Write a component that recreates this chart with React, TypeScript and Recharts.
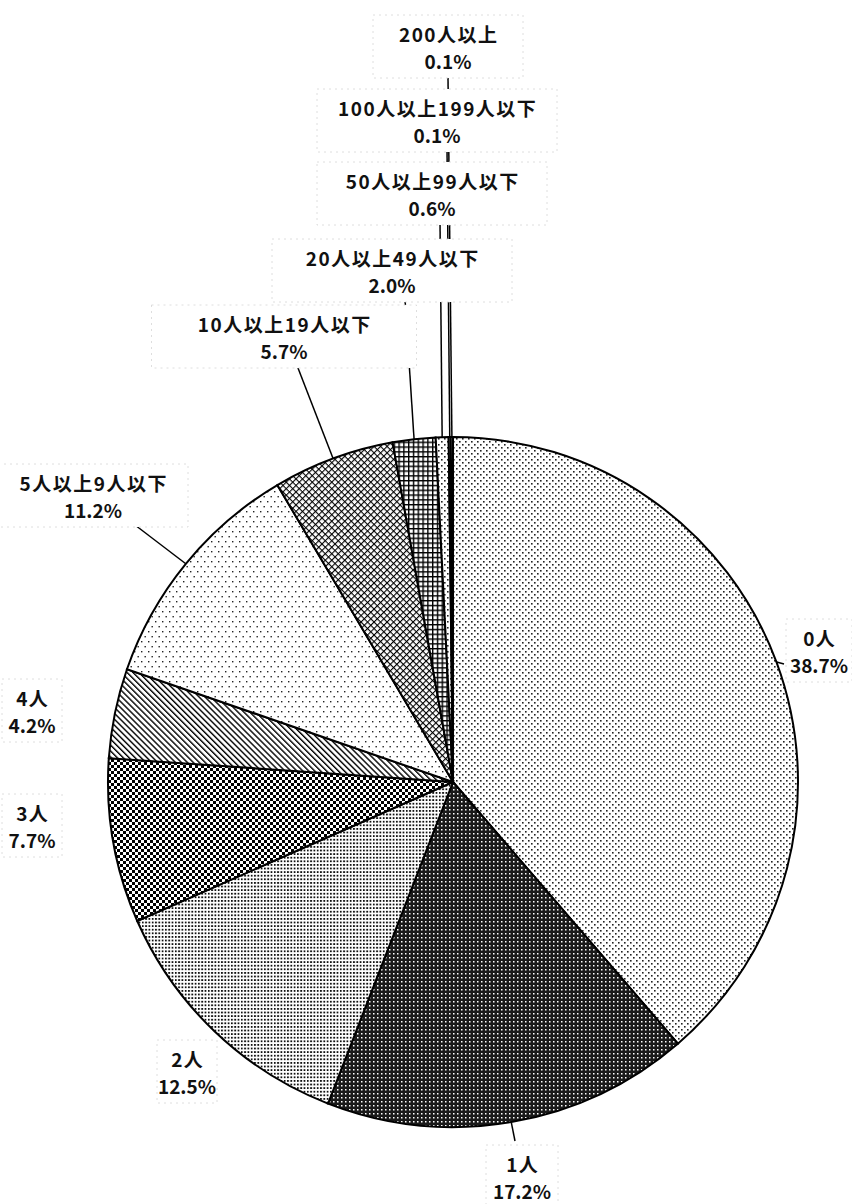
import { Cell, Pie, PieChart } from 'recharts'

const categories = [
  '0人',
  '1人',
  '2人',
  '3人',
  '4人',
  '5人以上9人以下',
  '10人以上19人以下',
  '20人以上49人以下',
  '50人以上99人以下',
  '100人以上199人以下',
  '200人以上',
]
const shares = [38.7, 17.2, 12.5, 7.7, 4.2, 11.2, 5.7, 2.0, 0.6, 0.1, 0.1]

const data = categories.map((name, i) => ({ name, value: shares[i] }))

// fill pattern per slice (monochrome hatching like the printed original)
const patternIds = ['dots', 'dark', 'fine', 'check', 'diag', 'sparse', 'diamond', 'grid', 'dots', 'blank', 'blank']

// label layout: text centre of first line, box width, start of leader line
const labelCenters: [number, number][] = [
  [819, 637],
  [522, 1163],
  [187, 1058],
  [32, 812],
  [32, 697],
  [93, 482],
  [284, 323],
  [392, 257],
  [432, 180],
  [437, 107],
  [448, 33],
]
const boxWidths = [66, 72, 60, 60, 60, 190, 265, 240, 230, 240, 150]
const lineStarts: ([number, number] | null)[] = [
  [784, 664],
  [515, 1141],
  null,
  null,
  null,
  [135, 525],
  [298, 368],
  [405, 299],
  [440, 222],
  [447, 148],
  [448, 78],
]

const RAD = Math.PI / 180
const FONT = '"Noto Sans CJK JP", "Noto Sans CJK SC", sans-serif'

const renderLeader = (props: any) => {
  const { cx, cy, midAngle, outerRadius, index } = props
  const start = lineStarts[index]
  if (!start) return null
  const ex = cx + outerRadius * Math.cos(-midAngle * RAD)
  const ey = cy + outerRadius * Math.sin(-midAngle * RAD)
  return <line x1={start[0]} y1={start[1]} x2={ex} y2={ey} stroke="#000" strokeWidth={1.5} />
}

const renderBox = (props: any) => {
  const { index } = props
  const [x, y] = labelCenters[index]
  const w = boxWidths[index]
  return (
    <g>
      <rect
        x={x - w / 2}
        y={y - 18}
        width={w}
        height={63}
        fill="#fff"
        stroke="#d6d6d6"
        strokeWidth={0.8}
        strokeDasharray="2 4"
      />
      <text
        x={x + 0.75}
        y={y}
        textAnchor="middle"
        dominantBaseline="central"
        fontFamily={FONT}
        fontWeight={700}
        fontSize={19}
        letterSpacing={1.5}
        fill="#111"
      >
        {categories[index]}
      </text>
      <text
        x={x}
        y={y + 27}
        textAnchor="middle"
        dominantBaseline="central"
        fontFamily={FONT}
        fontWeight={700}
        fontSize={19}
        fill="#111"
      >
        {shares[index].toFixed(1)}%
      </text>
    </g>
  )
}

export default function App() {
  return (
    <div style={{ position: 'absolute', left: 0, top: 0, background: '#fff' }}>
      <PieChart width={852} height={1204} margin={{ top: 0, right: 0, bottom: 0, left: 0 }}>
        <defs>
          <pattern id="dots" width="6" height="6" patternUnits="userSpaceOnUse">
            <rect width="6" height="6" fill="#fff" />
            <rect x="0" y="0" width="1.6" height="1.6" fill="#222" />
            <rect x="3" y="3" width="1.6" height="1.6" fill="#222" />
          </pattern>
          <pattern id="dark" width="4" height="4" patternUnits="userSpaceOnUse">
            <rect width="4" height="4" fill="#1a1a1a" />
            <rect x="1" y="1" width="1.5" height="1.5" fill="#fff" />
          </pattern>
          <pattern id="fine" width="3.3" height="3.6" patternUnits="userSpaceOnUse">
            <rect width="3.3" height="3.6" fill="#fff" />
            <rect x="0" y="0" width="1.8" height="1.8" fill="#111" />
          </pattern>
          <pattern id="check" width="6" height="6" patternUnits="userSpaceOnUse">
            <rect width="6" height="6" fill="#fff" />
            <rect x="0" y="0" width="3" height="3" fill="#000" />
            <rect x="3" y="3" width="3" height="3" fill="#000" />
          </pattern>
          <pattern id="diag" width="4.2" height="4.2" patternUnits="userSpaceOnUse" patternTransform="rotate(-45)">
            <rect width="4.2" height="4.2" fill="#fff" />
            <rect x="0" y="0" width="1.4" height="4.2" fill="#000" />
          </pattern>
          <pattern id="sparse" width="7" height="10" patternUnits="userSpaceOnUse">
            <rect width="7" height="10" fill="#fff" />
            <rect x="1" y="1" width="1.4" height="1.4" fill="#222" />
            <rect x="4.5" y="6" width="1.4" height="1.4" fill="#222" />
          </pattern>
          <pattern id="diamond" width="4.6" height="4.6" patternUnits="userSpaceOnUse" patternTransform="rotate(45)">
            <rect width="4.6" height="4.6" fill="#fff" />
            <rect x="0" y="0" width="4.6" height="1.1" fill="#000" />
            <rect x="0" y="0" width="1.1" height="4.6" fill="#000" />
          </pattern>
          <pattern id="grid" width="4.8" height="4.8" patternUnits="userSpaceOnUse">
            <rect width="4.8" height="4.8" fill="#fff" />
            <rect x="0" y="0" width="4.8" height="1.4" fill="#000" />
            <rect x="0" y="0" width="1.4" height="4.8" fill="#000" />
          </pattern>
          <pattern id="blank" width="4" height="4" patternUnits="userSpaceOnUse">
            <rect width="4" height="4" fill="#fff" />
          </pattern>
        </defs>
        <Pie
          data={data}
          dataKey="value"
          nameKey="name"
          cx={453}
          cy={782}
          outerRadius={345}
          startAngle={90}
          endAngle={-270}
          stroke="#000"
          strokeWidth={2}
          label={renderLeader}
          labelLine={false}
          isAnimationActive={false}
        >
          {data.map((entry, i) => (
            <Cell key={entry.name} fill={`url(#${patternIds[i]})`} />
          ))}
        </Pie>
        <Pie
          data={data}
          dataKey="value"
          nameKey="name"
          cx={453}
          cy={782}
          outerRadius={345}
          startAngle={90}
          endAngle={-270}
          fill="none"
          stroke="none"
          label={renderBox}
          labelLine={false}
          isAnimationActive={false}
        />
      </PieChart>
    </div>
  )
}
